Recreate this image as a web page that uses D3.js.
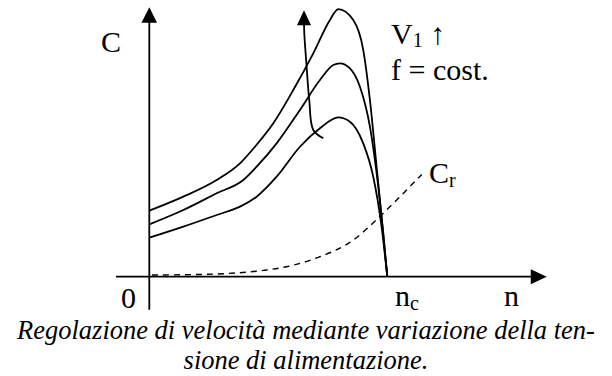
<!DOCTYPE html>
<html lang="it">
<head>
<meta charset="utf-8">
<script src="https://cdn.jsdelivr.net/npm/d3@7"></script>
<style>
  svg text { font-family: "Liberation Serif", "Times New Roman", Tinos, "Nimbus Roman", serif; }
</style>
</head>
<body style="margin:0">
<svg id="chart" width="612" height="376"></svg>
<script>
// Speed n as a fraction of the synchronous speed n_c; torque C in arbitrary units.
const speed = [0, 0.143, 0.283, 0.381, 0.444, 0.521, 0.605, 0.689, 0.759, 0.794, 0.857, 0.899, 0.927, 0.955, 0.976, 1.0];
const torqueHigh = [0.740, 0.897, 1.084, 1.271, 1.457, 1.720, 2.093, 2.504, 2.878, 3.000, 2.878, 2.541, 1.981, 1.233, 0.673, 0];

const speedMid = [0, 0.143, 0.283, 0.395, 0.451, 0.535, 0.633, 0.717, 0.773, 0.801, 0.843, 0.885, 0.927, 0.962, 0.983, 1.0];
const torqueMid = [0.587, 0.748, 0.935, 1.084, 1.233, 1.495, 1.869, 2.205, 2.373, 2.392, 2.336, 2.130, 1.682, 1.009, 0.486, 0];

const speedLow = [0, 0.143, 0.283, 0.381, 0.451, 0.535, 0.633, 0.717, 0.794, 0.843, 0.899, 0.941, 0.976, 1.0];
const torqueLow = [0.437, 0.561, 0.692, 0.785, 0.897, 1.121, 1.457, 1.664, 1.787, 1.738, 1.495, 1.121, 0.561, 0];

// Load torque C_r (dashed)
const speedLoad = [0.011, 0.213, 0.493, 0.703, 0.857, 0.962, 1.053, 1.145];
const torqueLoad = [0.019, 0.025, 0.075, 0.210, 0.411, 0.658, 0.897, 1.146];

// Curved arrow showing increasing supply voltage V1
const arrowN = [0.731, 0.689, 0.672, 0.659, 0.652, 0.650];
const arrowC = [1.552, 1.645, 1.981, 2.429, 2.690, 2.830];

const axisLabels = { y: "C", x: "n", origin: "0", sync: "n", syncSub: "c", load: "C", loadSub: "r" };
const captionLines = [
  "Regolazione di velocità mediante variazione della ten-",
  "sione di alimentazione."
];

const serifFace = '"Liberation Serif", "Times New Roman", Tinos, "Nimbus Roman", serif';

const svg = d3.select("#chart");
const x = d3.scaleLinear().domain([0, 1]).range([149.3, 387.3]);
const y = d3.scaleLinear().domain([0, 3]).range([276.7, 9.1]);

const line = d3.line().x(d => x(d[0])).y(d => y(d[1])).curve(d3.curveMonotoneX);
const zip = (a, b) => a.map((v, i) => [v, b[i]]);

// Axes with arrowheads
const axisG = svg.append("g").attr("stroke", "#000").attr("stroke-width", 1.8).attr("fill", "none");
axisG.append("line").attr("x1", x(-0.14)).attr("x2", x(1.61)).attr("y1", y(0)).attr("y2", y(0));
axisG.append("line").attr("x1", x(0)).attr("x2", x(0)).attr("y1", y(-0.37)).attr("y2", y(2.86));

const xTip = x(1.67), yTip = y(3.02);
svg.append("path")
  .attr("d", `M${xTip},${y(0)} L${xTip - 16},${y(0) - 7.5} L${xTip - 16},${y(0) + 7.5} Z`)
  .attr("fill", "#000");
svg.append("path")
  .attr("d", `M${x(0)},${yTip} L${x(0) - 7.8},${yTip + 15.5} L${x(0) + 7.8},${yTip + 15.5} Z`)
  .attr("fill", "#000");

// Motor torque curves
const curves = [zip(speed, torqueHigh), zip(speedMid, torqueMid), zip(speedLow, torqueLow)];
svg.append("g").selectAll("path").data(curves).join("path")
  .attr("d", line)
  .attr("fill", "none").attr("stroke", "#000").attr("stroke-width", 1.8)
  .attr("stroke-linejoin", "round");

// Load torque
svg.append("path")
  .attr("d", line(zip(speedLoad, torqueLoad)))
  .attr("fill", "none").attr("stroke", "#000").attr("stroke-width", 1.4)
  .attr("stroke-dasharray", "6,5");

// Curved arrow
const arrowLine = d3.line().x(d => x(d[0])).y(d => y(d[1])).curve(d3.curveCatmullRom);
svg.append("path")
  .attr("d", arrowLine(zip(arrowN, arrowC)))
  .attr("fill", "none").attr("stroke", "#000").attr("stroke-width", 1.8);
const ax = x(arrowN[arrowN.length - 1]), ay = y(arrowC[arrowC.length - 1]);
svg.append("path")
  .attr("d", `M${ax},${ay - 14} L${ax - 7},${ay + 1} L${ax + 7},${ay + 1} Z`)
  .attr("fill", "#000");

// Labels
const label = (px, py) => svg.append("text").attr("x", px).attr("y", py)
  .attr("font-family", serifFace).style("font-family", serifFace).attr("font-size", 30);

label(101, 52).text(axisLabels.y);
label(121, 308).text(axisLabels.origin);

const nc = label(395, 306);
nc.append("tspan").text(axisLabels.sync);
nc.append("tspan").attr("font-size", 20).attr("dy", 4).text(axisLabels.syncSub);

label(504, 306).text(axisLabels.x);

const cr = label(429, 183);
cr.append("tspan").text(axisLabels.load);
cr.append("tspan").attr("font-size", 20).attr("dy", 4).text(axisLabels.loadSub);

const v1 = label(391, 44);
v1.append("tspan").text("V");
v1.append("tspan").attr("font-size", 20).attr("dy", 3).text("1");
v1.append("tspan").attr("dy", -3).text(" \u2191");

label(391, 80).text("f = cost.");

// Caption, sized so the first line spans the figure width
const caption = svg.append("g").selectAll("text").data(captionLines).join("text")
  .attr("x", 306).attr("y", (d, i) => 339 + i * 30)
  .attr("text-anchor", "middle")
  .attr("font-family", serifFace).style("font-family", serifFace)
  .style("font-style", "italic").attr("font-size", 24.5)
  .text(d => d);

function fitCaption() {
  caption.attr("font-size", 24.5);
  const w0 = caption.node().getComputedTextLength();
  if (w0 > 0) caption.attr("font-size", 24.5 * 578 / w0);
}
fitCaption();
if (document.fonts) {
  document.fonts.load("30px 'Liberation Serif'").then(fitCaption);
  document.fonts.load("italic 25px 'Liberation Serif'").then(fitCaption);
  document.fonts.ready.then(fitCaption);
}
</script>
</body>
</html>
